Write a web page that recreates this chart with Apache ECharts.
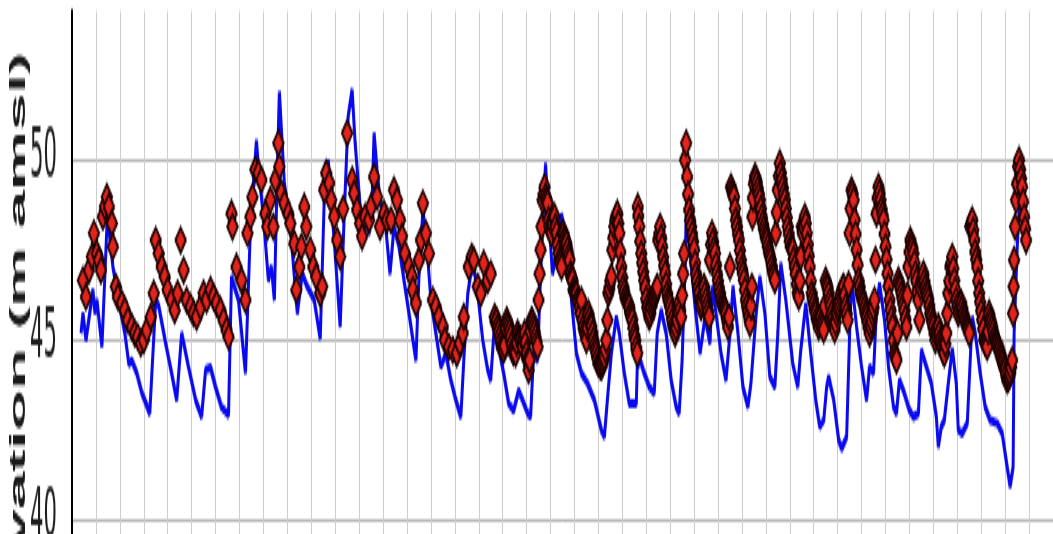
<!DOCTYPE html>
<html><head><meta charset="utf-8">
<script src="https://cdn.jsdelivr.net/npm/echarts@6/dist/echarts.min.js"></script>
<style>
html,body{margin:0;padding:0;overflow:hidden;background:#fff;width:1053px;height:534px}
#wrap{width:1053px;height:534px;overflow:hidden;position:relative;background:#fff}
#c{width:1053px;height:240px;transform:scaleY(3);transform-origin:0 0}
</style></head><body><div id="wrap"><div id="c"></div></div>
<script>
// x = day index (gridline every 24 days), y = elevation (m amsl)
const yTickValues = [40, 45, 50];
const yAxisTitle = 'Elevation (m amsl)';
const bluePoints = [[9,45.15],[11,45.7],[14,44.96],[21,46.35],[23,45.7],[25,46.07],[30,44.77],[35,48.1],[36,48.29],[41,47.0],[48,45.88],[53,45.15],[57,44.3],[60,44.4],[65,44.04],[70,43.5],[78,42.93],[84,46.07],[87,45.9],[94,44.87],[100,44.04],[105,43.3],[107,43.3],[110,45.15],[117,44.2],[124,43.3],[130,42.83],[134,44.13],[139,44.2],[144,43.66],[150,43.1],[157,42.88],[160,46.72],[167,46.07],[174,44.04],[179,48.1],[185,50.5],[187,49.77],[192,48.38],[197,46.62],[200,46.99],[203,46.07],[206,49.77],[208,51.85],[213,49.3],[219,48.1],[226,45.7],[231,46.8],[236,46.44],[243,46.07],[249,45.0],[253,48.84],[257,49.95],[263,47.73],[269,45.33],[273,48.38],[277,51.15],[281,51.9],[284,50.42],[288,49.03],[291,47.92],[294,48.38],[298,47.92],[301,48.84],[303,50.69],[306,49.68],[309,48.84],[314,48.29],[319,46.8],[323,48.1],[328,47.55],[333,46.62],[338,45.7],[342,44.96],[345,44.4],[348,46.72],[352,48.57],[356,47.55],[360,46.07],[365,45.15],[370,44.22],[375,44.59],[380,43.85],[385,43.3],[390,42.83],[393,44.4],[397,46.25],[400,46.8],[403,46.99],[407,46.25],[412,44.96],[417,44.13],[420,43.85],[424,45.5],[428,44.77],[433,44.04],[438,43.2],[443,43.0],[448,43.57],[452,43.3],[457,42.93],[460,42.83],[463,44.59],[467,44.4],[470,46.8],[475,49.86],[477,48.84],[482,46.8],[487,47.55],[491,48.45],[496,47.73],[501,46.07],[506,44.59],[511,44.04],[517,43.76],[524,43.3],[531,42.46],[534,42.28],[537,43.3],[541,44.59],[546,45.6],[549,45.15],[554,44.04],[559,43.2],[566,43.2],[567,44.22],[570,44.4],[574,44.04],[579,43.66],[584,43.48],[587,45.15],[591,45.79],[596,45.15],[601,43.85],[606,43.11],[609,42.93],[612,44.4],[615,46.99],[616,48.38],[620,47.36],[625,45.88],[630,44.59],[635,45.6],[640,44.87],[642,46.44],[646,45.7],[651,44.59],[656,43.85],[660,45.15],[663,46.44],[668,45.15],[673,43.66],[678,43.11],[681,43.76],[686,45.6],[690,46.72],[695,45.7],[700,43.94],[705,43.66],[708,45.15],[711,47.09],[716,46.07],[723,44.3],[728,43.66],[731,44.68],[736,45.98],[741,44.59],[746,43.3],[750,42.56],[754,42.74],[757,43.66],[759,43.94],[764,43.3],[769,42.19],[772,41.95],[777,42.28],[780,45.15],[782,46.62],[787,45.33],[792,44.22],[797,43.3],[800,44.22],[804,44.04],[807,45.88],[810,46.53],[815,45.51],[819,44.22],[824,43.11],[827,42.93],[830,43.85],[835,43.48],[840,43.02],[844,42.83],[849,42.93],[852,44.68],[857,44.22],[862,43.76],[867,42.83],[869,42.0],[872,42.56],[875,42.74],[879,43.76],[883,44.73],[887,43.76],[889,42.46],[893,42.37],[898,42.65],[903,45.6],[906,45.15],[911,44.04],[916,43.11],[921,42.74],[928,42.65],[933,42.37],[938,41.45],[941,40.9],[944,41.45],[945,45.15],[948,47.46],[950,48.57],[951,48.8]];
const redPointsEarly = [[11,46.62],[14,46.16],[17,46.9],[20,47.27],[22,47.92],[25,47.36],[27,47.18],[29,46.9],[31,48.38],[33,48.66],[35,48.93],[37,48.66],[40,48.2],[41,47.55],[44,46.44],[46,46.16],[50,45.98],[53,45.79],[56,45.51],[60,45.33],[63,45.15],[66,45.05],[69,44.87],[72,44.96],[75,45.24],[79,45.6],[82,46.25],[84,47.73],[87,47.36],[90,46.99],[93,46.72],[96,46.35],[100,46.07],[103,45.79],[106,46.25],[109,47.73],[112,46.9],[115,46.07],[119,45.88],[122,45.7],[125,45.6],[129,45.88],[132,46.25],[135,46.07],[139,46.35],[142,46.16],[145,45.98],[149,45.79],[152,45.51],[155,45.24],[157,45.05],[160,48.47],[161,48.1],[165,46.99],[170,46.62],[174,46.07],[176,47.92],[179,48.38],[181,48.93],[184,49.68],[187,49.59],[190,49.4],[194,48.47],[196,48.1],[199,48.84],[202,48.1],[204,49.4],[207,50.42],[208,49.77],[210,49.03],[213,48.75],[217,48.47],[219,48.2],[223,47.64],[225,46.35],[228,46.99],[230,47.55],[233,48.66],[235,48.1],[239,47.46],[242,46.99],[245,46.72],[249,46.25],[251,46.44],[253,49.12],[255,49.59],[258,49.31],[260,48.84],[263,48.38],[266,47.73],[269,47.27],[272,48.6],[276,50.7],[281,49.4],[283,49.03],[286,48.57],[289,48.2],[291,47.83],[294,48.38],[298,48.29],[300,48.66],[303,49.49],[306,48.93],[309,48.1],[313,48.47],[316,48.29],[320,48.29],[323,49.12],[326,48.84],[329,48.29],[331,47.83],[334,47.36],[338,46.99],[341,46.72],[342,46.35],[345,45.98],[348,47.18],[350,47.73],[352,48.75],[355,47.92],[358,47.36],[362,46.07],[365,45.88],[368,45.6],[372,45.33],[374,44.96],[378,44.77],[382,44.68],[386,44.59],[389,44.87],[392,45.15],[393,45.6],[398,46.99],[401,47.27],[403,47.18],[407,46.44],[410,46.25],[413,47.09],[417,46.62],[420,46.8]];
const redPointsLate = [[424,45.6],[425,45.45],[426,45.5],[427,45.33],[428,45.2],[429,45.05],[430,44.9],[431,44.77],[432,44.72],[433,44.68],[434,44.8],[435,45.3],[436,45.51],[437,45.42],[438,45.33],[439,45.2],[440,45.05],[441,44.85],[442,44.68],[443,44.62],[444,44.7],[445,44.59],[446,44.9],[447,45.15],[448,45.05],[449,45.0],[450,44.96],[451,44.85],[452,44.77],[453,44.95],[454,45.15],[455,44.9],[456,44.6],[457,44.4],[458,44.13],[459,44.4],[460,45.2],[461,45.51],[462,45.45],[463,45.33],[464,45.2],[465,45.05],[466,44.9],[467,44.77],[468,46.07],[469,46.8],[470,47.46],[471,48.1],[472,48.84],[473,49.0],[474,49.21],[475,48.95],[476,48.85],[477,48.75],[478,48.29],[479,48.1],[480,48.0],[481,47.92],[482,48.15],[483,48.38],[484,48.38],[485,48.1],[486,47.92],[487,47.6],[488,47.36],[489,47.18],[490,47.1],[491,46.99],[492,47.92],[493,47.92],[494,47.8],[495,47.7],[496,47.64],[497,47.46],[498,47.3],[499,47.18],[500,46.8],[501,46.7],[502,46.62],[503,46.35],[504,46.3],[505,46.28],[506,46.25],[507,46.07],[508,46.0],[509,45.88],[510,45.7],[511,46.07],[512,45.51],[513,45.33],[514,45.2],[515,45.1],[516,44.96],[517,45.3],[518,45.7],[519,45.55],[520,45.4],[521,45.33],[522,45.15],[523,44.96],[524,44.8],[525,44.7],[526,44.59],[527,44.45],[528,44.31],[529,44.28],[530,44.25],[531,44.22],[532,44.3],[533,44.4],[534,44.5],[535,44.7],[536,44.96],[537,45.51],[538,46.25],[539,46.4],[540,46.6],[541,46.72],[542,47.46],[543,47.8],[544,48.1],[545,48.3],[546,48.4],[547,48.47],[548,48.2],[549,47.92],[550,47.4],[551,46.99],[552,46.7],[553,46.44],[554,46.3],[555,46.15],[556,46.07],[557,46.0],[558,45.95],[559,45.88],[560,45.7],[561,45.6],[562,45.51],[563,45.3],[564,45.1],[565,44.96],[566,44.75],[567,44.59],[567.5,48.66],[568,48.4],[569,48.1],[570,47.7],[571,47.36],[572,47.1],[573,46.85],[574,46.62],[575,46.4],[576,46.1],[577,45.88],[578,45.75],[579,45.6],[580,45.7],[581,45.88],[582,46.0],[583,46.1],[584,46.16],[585,46.25],[586,46.35],[587,46.44],[588,47.73],[589,47.9],[590,48.1],[591,47.8],[592,47.55],[593,47.25],[594,47.0],[595,46.8],[596,46.5],[597,46.25],[598,46.1],[599,46.0],[600,45.88],[601,45.7],[602,45.51],[603,45.35],[604,45.25],[605,45.15],[606,45.3],[607,45.51],[608,45.75],[609,45.98],[610,45.8],[611,45.6],[612,46.2],[613,46.8],[614,47.36],[615,49.95],[616,50.42],[617,49.49],[618,49.0],[619,48.57],[620,48.3],[621,48.1],[622,47.9],[623,47.7],[624,47.46],[625,47.1],[626,46.8],[627,46.6],[628,46.4],[629,46.25],[630,46.05],[631,45.88],[632,46.0],[633,46.2],[634,46.44],[635,46.25],[636,46.07],[637,45.9],[638,45.75],[639,45.6],[640,47.18],[641,47.6],[642,47.92],[643,47.7],[644,47.5],[645,47.36],[646,47.05],[647,46.8],[648,46.6],[649,46.4],[650,46.25],[651,46.1],[652,45.98],[653,45.9],[654,45.85],[655,45.8],[656,45.7],[657,45.5],[658,45.33],[659,45.6],[660,46.99],[661,49.21],[662,49.1],[663,49.0],[664,48.93],[665,48.6],[666,48.29],[667,48.1],[668,47.9],[669,47.73],[670,47.45],[671,47.18],[672,46.95],[673,46.8],[674,46.62],[675,46.35],[676,46.07],[677,45.9],[678,45.75],[679,45.6],[680,45.42],[681,45.9],[682,46.44],[682.5,48.38],[683,48.9],[684,49.3],[685,49.49],[686,49.45],[687,49.31],[688,49.15],[689,49.0],[690,48.84],[691,48.6],[692,48.38],[693,48.2],[694,48.05],[695,47.92],[696,47.8],[697,47.7],[698,47.55],[699,47.4],[700,47.3],[701,47.18],[702,47.0],[703,46.85],[704,46.75],[705,46.62],[706,47.92],[707,48.5],[708,49.12],[709,49.5],[710,49.86],[711,49.6],[712,49.4],[713,49.2],[714,49.0],[715,48.84],[716,48.6],[717,48.35],[718,48.1],[719,47.9],[720,47.7],[721,47.55],[722,47.5],[723,47.46],[724,47.2],[725,46.99],[726,46.8],[727,46.5],[728,46.25],[729,46.16],[730,46.6],[731,47.27],[732,48.1],[733,47.92],[734,48.1],[735,48.38],[736,48.2],[737,47.92],[738,47.6],[739,47.3],[740,46.99],[741,46.6],[742,46.25],[743,46.1],[744,45.95],[745,45.8],[746,45.7],[747,45.55],[748,45.45],[749,45.33],[750,45.45],[751,45.6],[752,45.45],[753,45.35],[754,45.24],[755,45.9],[756,46.62],[757,46.5],[758,46.4],[759,46.25],[760,46.05],[761,45.9],[762,45.7],[763,45.55],[764,45.4],[765,45.24],[766,45.45],[767,45.7],[768,45.85],[769,45.95],[770,46.07],[771,46.2],[772,46.3],[773,46.4],[774,46.44],[775,46.2],[776,45.88],[777,45.7],[778,45.51],[779,46.5],[780,47.92],[781,48.6],[782,49.12],[783,49.0],[784,48.84],[785,48.29],[786,47.9],[787,47.46],[788,47.05],[789,46.62],[790,46.45],[791,46.25],[792,46.15],[793,46.05],[794,45.98],[795,45.85],[796,45.7],[797,45.6],[798,45.45],[799,45.3],[800,45.15],[801,45.35],[802,45.5],[803,45.7],[804,45.85],[805,46.07],[806,47.18],[807,48.47],[808,48.9],[809,49.21],[810,49.05],[811,48.84],[812,48.6],[813,48.45],[814,48.29],[815,47.9],[816,47.55],[817,47.2],[818,46.8],[819,46.45],[820,46.07],[821,45.8],[822,45.55],[823,45.33],[824,44.95],[825,44.59],[826,44.5],[827,44.4],[828,45.15],[829,46.62],[830,46.5],[831,46.4],[832,46.25],[833,46.1],[834,45.95],[835,45.79],[836,45.55],[837,45.33],[838,46.2],[839,46.99],[840,47.4],[841,47.73],[842,47.6],[843,47.5],[844,47.36],[845,47.1],[846,46.8],[847,46.6],[848,46.3],[849,46.07],[850,45.51],[851,46.44],[852,46.6],[853,46.7],[854,46.8],[855,46.6],[856,46.44],[857,46.3],[858,46.2],[859,46.07],[860,45.9],[861,45.7],[862,45.6],[863,45.45],[864,45.33],[865,45.15],[866,44.96],[867,45.1],[868,45.2],[869,45.33],[870,45.15],[871,44.96],[872,44.85],[873,44.75],[874,44.65],[875,44.59],[876,44.85],[877,45.15],[878,45.7],[879,46.25],[880,46.6],[881,46.99],[882,47.1],[883,47.27],[884,46.95],[885,46.62],[886,46.35],[887,46.07],[888,45.9],[889,45.7],[890,45.8],[891,45.9],[892,45.98],[893,45.85],[894,45.7],[895,45.6],[896,45.5],[897,45.4],[898,45.33],[899,45.25],[900,45.15],[901,48.1],[902,48.2],[903,48.29],[904,48.0],[905,47.73],[906,47.4],[907,47.2],[908,46.99],[909,46.6],[910,46.25],[911,46.0],[912,45.75],[913,45.51],[914,45.25],[915,44.96],[916,44.9],[917,44.85],[918,44.77],[919,45.2],[920,45.7],[921,45.55],[922,45.45],[923,45.33],[924,45.2],[925,45.05],[926,44.96],[927,44.9],[928,44.85],[929,44.77],[930,44.7],[931,44.6],[932,44.5],[933,44.4],[934,44.3],[935,44.2],[936,44.13],[937,44.0],[938,43.85],[939,43.9],[940,43.95],[941,44.04],[942,44.2],[943,44.4],[944,45.7],[944.5,46.44],[945,47.18],[946,48.1],[947,48.84],[948,49.3],[949,49.77],[950,49.95],[951,49.7],[952,49.45],[953,49.21],[954,48.8],[955,48.38],[956,48.05],[957,47.73]];
const redPoints = redPointsEarly.concat(redPointsLate);

const chart = echarts.init(document.getElementById('c'), null, {renderer: 'canvas'});
chart.setOption({
  animation: false,
  backgroundColor: '#ffffff',
  grid: {left: 72, top: 3.67, width: 991.2, height: 229.4},
  xAxis: {
    type: 'value', min: 0, max: 984, interval: 24,
    axisLine: {show: false}, axisTick: {show: false}, axisLabel: {show: false},
    splitLine: {show: true, lineStyle: {color: '#cdcdcd', width: 1}}
  },
  yAxis: {
    type: 'value', min: 35, max: 54.085, interval: 5,
    axisLine: {show: true, lineStyle: {color: '#000000', width: 2}},
    axisTick: {show: false},
    axisLabel: {
      margin: 15, fontSize: 23.5, fontFamily: "'Liberation Sans Narrow', 'DejaVu Sans Condensed', sans-serif",
      color: '#1e1e1e', showMaxLabel: false,
      formatter: v => yTickValues.includes(v) ? String(v) : ''
    },
    splitLine: {show: true, showMaxLine: false, lineStyle: {color: '#b8b8b8', width: 1}}
  },
  graphic: [{
    type: 'text', x: 19, y: 116.7, rotation: Math.PI / 2, silent: true,
    style: {text: yAxisTitle, fontSize: 22.5, fontWeight: 'bold', fontFamily: 'Liberation Sans',
            fill: '#1a1a1a', align: 'center', verticalAlign: 'middle'}
  }],
  series: [
    {type: 'line', data: bluePoints, showSymbol: false, symbol: 'none', z: 2,
     lineStyle: {color: '#0a0af0', width: 3}},
    {type: 'scatter', data: redPoints, symbol: 'diamond', symbolSize: [10.5, 8.3], z: 3,
     itemStyle: {color: '#e2241c', borderColor: '#1c0202', borderWidth: 1.5, opacity: 1}}
  ]
});
</script></body></html>
